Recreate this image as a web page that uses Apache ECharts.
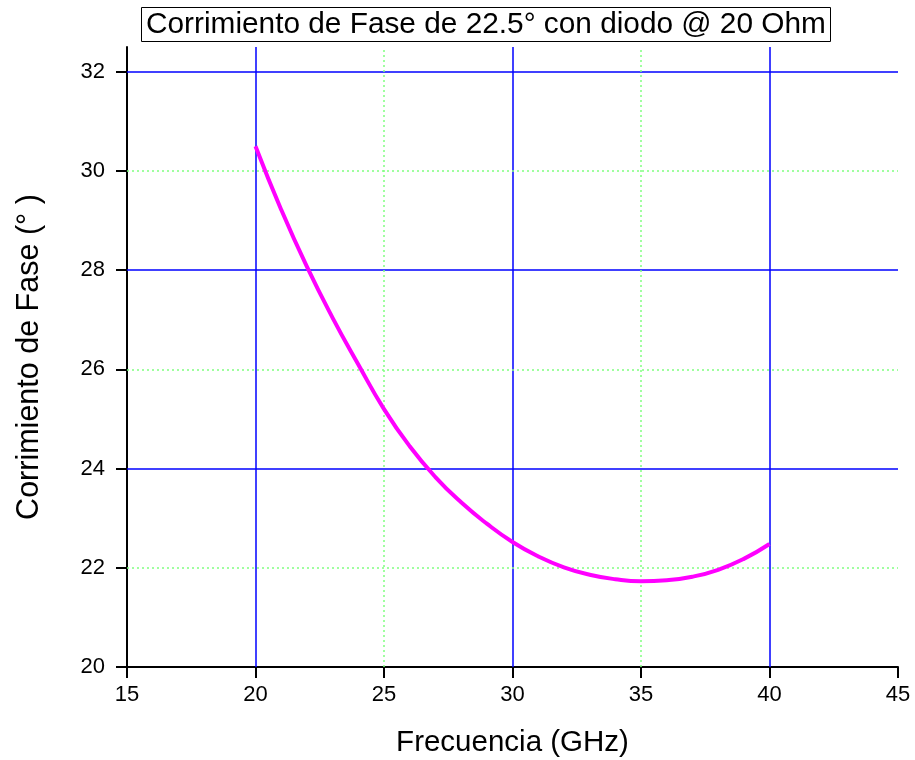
<!DOCTYPE html>
<html>
<head>
<meta charset="utf-8">
<script src="https://cdn.jsdelivr.net/npm/echarts@6/dist/echarts.min.js"></script>
<style>
  html, body { margin: 0; padding: 0; background: #fff; }
  #chart { width: 915px; height: 760px; }
</style>
</head>
<body>
<div id="chart"></div>
<script>
// frecuencia (GHz) y corrimiento de fase (grados)
var freq = [20, 21, 22, 23, 24, 25, 26, 27, 28, 29, 30, 31, 32, 33, 34, 35, 36, 37, 38, 39, 40];
var fase = [30.50, 29.22, 28.07, 27.04, 26.10, 25.20, 24.45, 23.83, 23.32, 22.89, 22.52,
            22.23, 22.01, 21.86, 21.77, 21.73, 21.75, 21.82, 21.96, 22.18, 22.48];
var yTicks = [20, 22, 24, 26, 28, 30, 32];
// rejilla mayor (azul) y menor (verde punteada)
var xMayor = [20, 30, 40];
var xMenor = [25, 35];
var yMayor = [24, 28, 32];
var yMenor = [22, 26, 30];

var font = 'Liberation Sans, Arial, sans-serif';
var azul = '#0000ff';
var verde = '#80ff80';

var chart = echarts.init(document.getElementById('chart'));

var data = freq.map(function (f, i) { return [f, fase[i]]; });

// lineas de rejilla como markLine
var rejilla = [];
xMayor.forEach(function (v) { rejilla.push({ xAxis: v, lineStyle: { color: azul, type: 'solid' } }); });
yMayor.forEach(function (v) { rejilla.push({ yAxis: v, lineStyle: { color: azul, type: 'solid' } }); });
xMenor.forEach(function (v) { rejilla.push({ xAxis: v, lineStyle: { color: verde, type: [2, 3] } }); });
yMenor.forEach(function (v) { rejilla.push({ yAxis: v, lineStyle: { color: verde, type: [2, 3] } }); });

var option = {
  backgroundColor: '#fff',
  animation: false,
  title: {
    text: 'Corrimiento de Fase de 22.5° con diodo @ 20 Ohm',
    left: 141,
    top: 7,
    padding: [3, 5, 2, 5],
    borderColor: '#000',
    borderWidth: 1,
    textStyle: { fontFamily: font, fontSize: 29.8, fontWeight: 'normal', color: '#000', lineHeight: 30 }
  },
  grid: { left: 127, right: 17, top: 47, bottom: 93, outerBoundsMode: 'none' },
  xAxis: {
    type: 'value', min: 15, max: 45, interval: 5,
    name: 'Frecuencia (GHz)', nameLocation: 'middle', nameGap: 61,
    nameTextStyle: { fontFamily: font, fontSize: 29.5, color: '#000' },
    axisLine: { lineStyle: { color: '#000', width: 2 } },
    axisTick: { length: 11, lineStyle: { color: '#000', width: 2 } },
    axisLabel: { fontFamily: font, fontSize: 22, color: '#000', margin: 17 },
    splitLine: { show: false }
  },
  yAxis: {
    type: 'value', min: 20, max: 32.5, interval: 2,
    name: 'Corrimiento de Fase (° )', nameLocation: 'middle', nameGap: 82,
    nameTextStyle: { fontFamily: font, fontSize: 30.5, color: '#000' },
    axisLine: { lineStyle: { color: '#000', width: 2 } },
    axisTick: { length: 11, customValues: yTicks, lineStyle: { color: '#000', width: 2 } },
    axisLabel: { fontFamily: font, fontSize: 22, color: '#000', margin: 22, customValues: yTicks },
    splitLine: { show: false }
  },
  series: [{
    type: 'line',
    data: [],
    z: 1,
    silent: true,
    markLine: {
      silent: true,
      symbol: 'none',
      label: { show: false },
      emphasis: { disabled: true },
      lineStyle: { width: 1.5 },
      data: rejilla
    }
  }, {
    type: 'line',
    data: data,
    smooth: true,
    showSymbol: false,
    lineStyle: { color: '#ff00ff', width: 4 },
    z: 5
  }]
};

chart.setOption(option);
</script>
</body>
</html>
